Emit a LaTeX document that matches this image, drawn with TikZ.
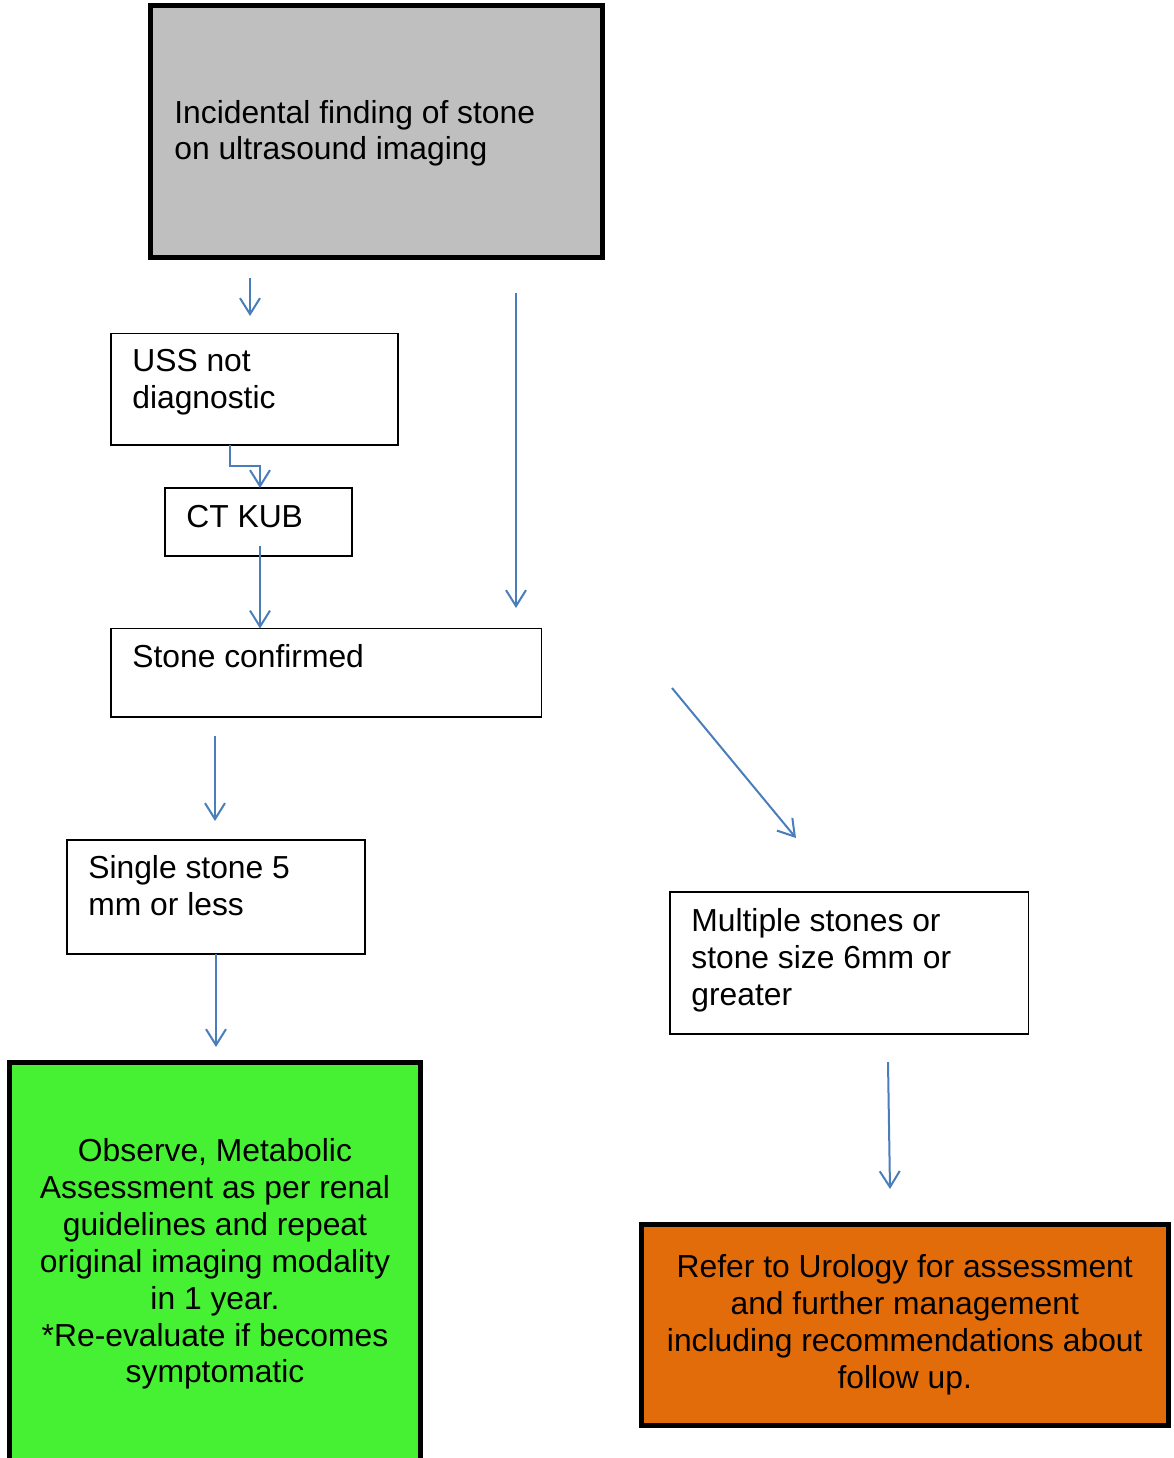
\documentclass[tikz,border=0pt]{standalone}
\usepackage{fontspec}
\setmainfont{Liberation Sans}
\usetikzlibrary{arrows.meta}

\definecolor{boxgray}{HTML}{BFBFBF}
\definecolor{boxgreen}{HTML}{46F032}
\definecolor{boxorange}{HTML}{E36C0A}
\definecolor{arrowblue}{HTML}{4A7EBB}

\begin{document}
\begin{tikzpicture}[
    step box/.style ={draw, line width=0.75pt, anchor=north west, inner sep=0pt, outer sep=0pt},
    main box/.style ={draw, line width=0.1cm, anchor=north west, inner sep=0pt, outer sep=0pt},
    box text/.style ={inner sep=0pt, align=left, font=\fontsize{18.1}{21}\selectfont},
    flow/.style ={draw=arrowblue, line width=0.04cm, -{Straight Barb[length=0.32cm, width=0.4cm]}}]
   \useasboundingbox (0,0) rectangle (23.46,-29.16);

   % boxes
   \node[main box, fill=boxgray, minimum width=9.03cm, minimum height=5.03cm] (find) at (3.01,-0.11) {};
   \node[step box, minimum width=5.74cm, minimum height=2.23cm] (uss) at (2.22,-6.67) {};
   \node[step box, minimum width=3.74cm, minimum height=1.36cm] (ct) at (3.30,-9.76) {};
   \node[step box, minimum width=8.61cm, minimum height=1.77cm] (conf) at (2.22,-12.57) {};
   \node[step box, minimum width=5.96cm, minimum height=2.28cm] (single) at (1.34,-16.80) {};
   \node[step box, minimum width=7.17cm, minimum height=2.84cm] (multi) at (13.40,-17.84) {};
   \node[main box, fill=boxgreen, minimum width=8.21cm, minimum height=8.3cm] (observe) at (0.19,-21.25) {};
   \node[main box, fill=boxorange, minimum width=10.53cm, minimum height=4.01cm, align=center,
         font=\fontsize{18.1}{21}\selectfont] (refer) at (12.83,-24.49)
        {Refer to Urology for assessment\\and further management\\including recommendations about\\follow up.};

   % texts (base = baseline of the last line)
   \node[box text, anchor=base west] (findtxt) at (3.48,-3.20) {Incidental finding of stone\\on ultrasound imaging};
   \node[box text, anchor=base west] (usstxt) at (2.64,-8.16) {USS not\\diagnostic};
   \node[box text, anchor=base west] (cttxt) at (3.72,-10.54) {CT KUB};
   \node[box text, anchor=base west] (conftxt) at (2.64,-13.34) {Stone confirmed};
   \node[box text, anchor=base west] (singletxt) at (1.76,-18.30) {Single stone 5\\mm or less};
   \node[box text, anchor=base west] (multitxt) at (13.82,-20.10) {Multiple stones or\\stone size 6mm or\\greater};
   \node[box text, align=center] (observetxt) at (4.30,-25.28)
        {Observe, Metabolic\\Assessment as per renal\\guidelines and repeat\\original imaging modality\\in 1 year.\\*Re-evaluate if becomes\\symptomatic};

   % free arrow ends
   \coordinate (p1) at (5.00,-5.56);
   \coordinate (q1) at (5.00,-6.32);
   \coordinate (p2) at (10.32,-5.86);
   \coordinate (q2) at (10.32,-12.16);
   \coordinate (p3) at (4.30,-14.72);
   \coordinate (q3) at (4.30,-16.42);
   \coordinate (p4) at (13.44,-13.76);
   \coordinate (q4) at (15.92,-16.76);
   \coordinate (q5) at (4.30,-20.94);
   \coordinate (p6) at (17.76,-21.24);
   \coordinate (q6) at (17.80,-23.78);

   \draw[flow] (p1) to (q1);
   \draw[flow] (p2) to (q2);
   \draw[flow] ([xshift=-0.49cm]uss.south) -- ++(0,-0.42) -| ([xshift=0.03cm]ct.north);
   \draw[flow] ([xshift=0.03cm,yshift=0.2cm]ct.south) to ([xshift=0.03cm]ct.south |- conf.north);
   \draw[flow] (p3) to (q3);
   \draw[flow] (p4) to (q4);
   \draw[flow] (single.south) to (single.south |- q5);
   \draw[flow] (p6) to (q6);
 \end{tikzpicture}
\end{document}
